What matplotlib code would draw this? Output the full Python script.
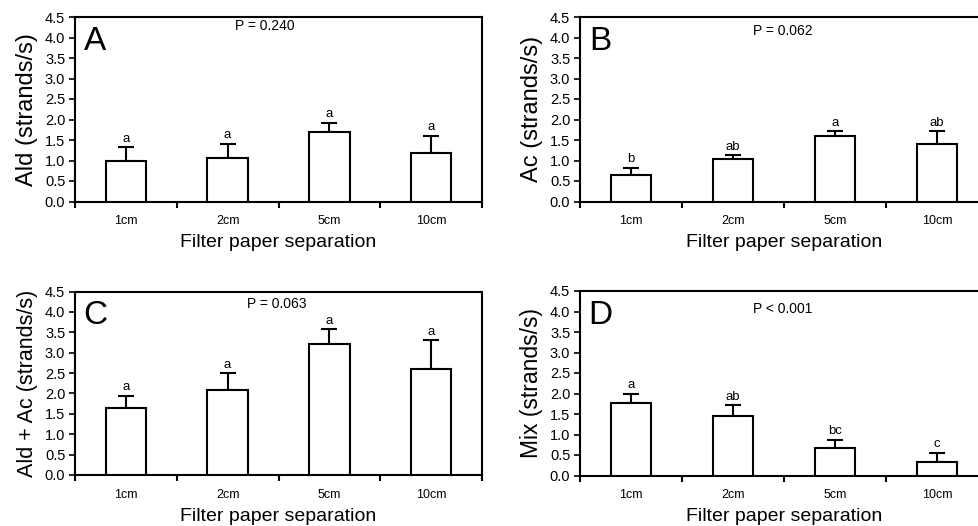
import matplotlib
matplotlib.use("Agg")
import matplotlib.pyplot as plt
import numpy as np

plt.rcParams['font.family'] = ['Liberation Sans', 'DejaVu Sans']

categories = ["1cm", "2cm", "5cm", "10cm"]

ald_mean = [1.00, 1.05, 1.69, 1.19]
ald_err = [0.33, 0.36, 0.23, 0.41]
ald_letters = ["a", "a", "a", "a"]

ac_mean = [0.65, 1.04, 1.60, 1.41]
ac_err = [0.17, 0.09, 0.12, 0.31]
ac_letters = ["b", "ab", "a", "ab"]

sum_mean = [1.64, 2.09, 3.22, 2.60]
sum_err = [0.30, 0.41, 0.36, 0.71]
sum_letters = ["a", "a", "a", "a"]

mix_mean = [1.78, 1.45, 0.68, 0.32]
mix_err = [0.21, 0.26, 0.19, 0.23]
mix_letters = ["a", "ab", "bc", "c"]

panels = [
    ("A", "Ald (strands/s)", 17, ald_mean, ald_err, ald_letters, "P = 0.240", (1.37, 4.29)),
    ("B", "Ac (strands/s)", 17, ac_mean, ac_err, ac_letters, "P = 0.062", (1.49, 4.17)),
    ("C", "Ald + Ac (strands/s)", 15.5, sum_mean, sum_err, sum_letters, "P = 0.063", (1.48, 4.20)),
    ("D", "Mix (strands/s)", 16.5, mix_mean, mix_err, mix_letters, "P < 0.001", (1.49, 4.05)),
]

W, H = 979, 526
fig = plt.figure(figsize=(W / 100, H / 100), dpi=100)

# pixel boxes: left, top, right, bottom
boxes = [
    (75, 17, 482, 201.5),
    (580, 17, 988, 201.5),
    (75, 291.5, 482, 475),
    (580, 291, 988, 475.5),
]

x = np.arange(len(categories))
for (letter, ylabel, ylfs, mean, err, lets, ptxt, ppos), (l, t, r, b) in zip(panels, boxes):
    ax = fig.add_axes([l / W, (H - b) / H, (r - l) / W, (b - t) / H])
    ax.bar(x, mean, width=0.4, color="white", edgecolor="black", linewidth=1.5, zorder=3)
    ax.errorbar(x, mean, yerr=[np.zeros(len(err)), err], fmt="none", ecolor="black",
                elinewidth=1.5, capsize=5.5, capthick=1.5, zorder=2)
    for xi, m, e, s in zip(x, mean, err, lets):
        ax.text(xi, m + e + 0.06, s, ha="center", va="bottom", fontsize=9.5)
    ax.text(ppos[0], ppos[1], ptxt, ha="center", va="center", fontsize=10)
    ax.text(-0.3, 3.9, letter, ha="center", va="center", fontsize=24)
    ax.set_xlim(-0.5, 3.5)
    ax.set_ylim(0, 4.5)
    ax.set_yticks(np.arange(0, 4.51, 0.5))
    ax.set_yticklabels([f"{v:.1f}" for v in np.arange(0, 4.51, 0.5)])
    ax.set_xticks(x)
    ax.set_xticklabels(categories)
    ax.set_xticks(np.arange(-0.5, 3.6, 1.0), minor=True)
    ax.tick_params(axis="x", which="major", length=0, pad=10, labelsize=9)
    ax.tick_params(axis="x", which="minor", length=4, width=1.5, direction="out")
    ax.tick_params(axis="y", which="major", length=4, width=1.2, pad=3, labelsize=10.5)
    for sp in ax.spines.values():
        sp.set_linewidth(1.5)
    ax.set_ylabel(ylabel, fontsize=ylfs, labelpad=5)
    ax.set_xlabel("Filter paper separation", fontsize=14, labelpad=5)

fig.savefig("out.png", dpi=100)
